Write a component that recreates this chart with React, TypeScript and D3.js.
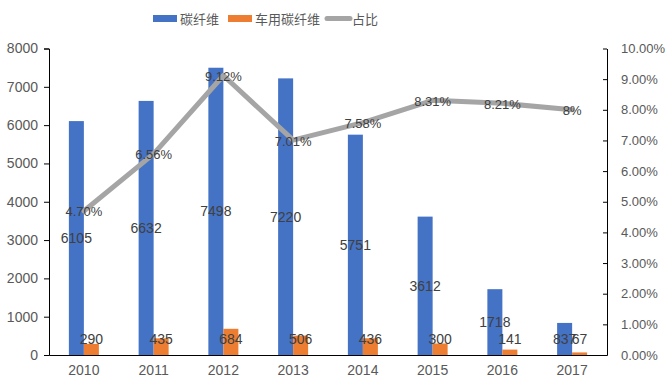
import { useRef, useEffect } from 'react';
import { select, scaleLinear, scaleBand, line, axisLeft, axisRight, axisBottom, format } from 'd3';

const years = ['2010', '2011', '2012', '2013', '2014', '2015', '2016', '2017'];
const carbonFiber = [6105, 6632, 7498, 7220, 5751, 3612, 1718, 837];
const autoCarbonFiber = [290, 435, 684, 506, 436, 300, 141, 67];
const shareLabels = ['4.70%', '6.56%', '9.12%', '7.01%', '7.58%', '8.31%', '8.21%', '8%'];
const share = [0.047, 0.0656, 0.0912, 0.0701, 0.0758, 0.0831, 0.0821, 0.08];
const leftTicks = [0, 1000, 2000, 3000, 4000, 5000, 6000, 7000, 8000];
const rightTicks = [0, 0.01, 0.02, 0.03, 0.04, 0.05, 0.06, 0.07, 0.08, 0.09, 0.1];

const WIDTH = 668;
const HEIGHT = 387;
const LEFT = 49;
const RIGHT = 607;
const TOP = 48.5;
const BOTTOM = 355;
const FONT = '"Liberation Sans", Arial, sans-serif';
const CJK = '"Noto Sans CJK SC", sans-serif';
const BLUE = '#4472C4';
const ORANGE = '#ED7D31';
const GREY = '#A5A5A5';

export default function App() {
  const svgRef = useRef<SVGSVGElement>(null);

  useEffect(() => {
    const svg = select(svgRef.current);
    svg.selectAll('*').remove();

    const x = scaleBand<string>().domain(years).range([LEFT, RIGHT]);
    const y = scaleLinear().domain([0, 8000]).range([BOTTOM, TOP]);
    const y2 = scaleLinear().domain([0, 0.1]).range([BOTTOM, TOP]);
    const barW = 15;
    const center = (d: string) => x(d)! + x.bandwidth() / 2;

    // axes
    const styleAxis = (size: number) => (g: any) => {
      g.selectAll('.domain').attr('stroke', '#000');
      g.selectAll('.tick line').attr('stroke', '#000');
      g.selectAll('.tick text')
        .attr('fill', '#595959')
        .attr('font-size', size)
        .attr('font-family', FONT);
    };
    svg
      .append('g')
      .attr('transform', `translate(${LEFT},0)`)
      .call(axisLeft(y).tickValues(leftTicks).tickSizeOuter(0).tickSize(5).tickPadding(6).tickFormat(format('d')))
      .call(styleAxis(14));
    svg
      .append('g')
      .attr('transform', `translate(${RIGHT},0)`)
      .call(
        axisRight(y2)
          .tickValues(rightTicks)
          .tickSize(-4)
          .tickSizeOuter(0)
          .tickPadding(14)
          .tickFormat(format('.2%')),
      )
      .call(styleAxis(13));
    svg
      .append('g')
      .attr('transform', `translate(0,${BOTTOM})`)
      .call(axisBottom(x).tickSize(0).tickPadding(10))
      .call(styleAxis(14));

    // bars
    svg
      .append('g')
      .selectAll('rect')
      .data(carbonFiber)
      .join('rect')
      .attr('x', (_d, i) => center(years[i]) - barW)
      .attr('y', (d) => y(d))
      .attr('width', barW)
      .attr('height', (d) => BOTTOM - y(d))
      .attr('fill', BLUE);
    svg
      .append('g')
      .selectAll('rect')
      .data(autoCarbonFiber)
      .join('rect')
      .attr('x', (_d, i) => center(years[i]))
      .attr('y', (d) => y(d))
      .attr('width', barW)
      .attr('height', (d) => BOTTOM - y(d))
      .attr('fill', ORANGE);

    // line
    svg
      .append('path')
      .datum(share)
      .attr('fill', 'none')
      .attr('stroke', GREY)
      .attr('stroke-width', 5)
      .attr('stroke-linejoin', 'round')
      .attr('stroke-linecap', 'round')
      .attr(
        'd',
        line<number>()
          .x((_d, i) => center(years[i]))
          .y((d) => y2(d)),
      );

    // data labels
    const labels = svg
      .append('g')
      .attr('font-family', FONT)
      .attr('font-size', 14)
      .attr('fill', '#404040')
      .attr('text-anchor', 'middle')
      .attr('dominant-baseline', 'central');
    carbonFiber.forEach((v, i) => {
      labels
        .append('text')
        .attr('x', center(years[i]) - barW / 2)
        .attr('y', (y(v) + BOTTOM) / 2)
        .text(v);
    });
    autoCarbonFiber.forEach((v, i) => {
      labels
        .append('text')
        .attr('x', center(years[i]) + barW / 2)
        .attr('y', BOTTOM - 16)
        .text(v);
    });
    share.forEach((v, i) => {
      labels
        .append('text')
        .attr('x', center(years[i]))
        .attr('y', y2(v) + 1)
        .attr('font-size', 13)
        .text(shareLabels[i]);
    });

    // legend
    const legend = svg
      .append('g')
      .attr('font-family', CJK)
      .attr('font-size', 13)
      .attr('fill', '#595959');
    const items = [
      { name: '碳纤维', color: BLUE, x: 153, type: 'rect' },
      { name: '车用碳纤维', color: ORANGE, x: 228, type: 'rect' },
      { name: '占比', color: GREY, x: 325, type: 'line' },
    ];
    items.forEach((it) => {
      if (it.type === 'rect') {
        legend.append('rect').attr('x', it.x).attr('y', 15).attr('width', 24).attr('height', 7).attr('fill', it.color);
      } else {
        legend
          .append('line')
          .attr('x1', it.x + 2)
          .attr('x2', it.x + 25)
          .attr('y1', 18.5)
          .attr('y2', 18.5)
          .attr('stroke', it.color)
          .attr('stroke-width', 5)
          .attr('stroke-linecap', 'round');
      }
      legend
        .append('text')
        .attr('x', it.x + 27)
        .attr('y', 18.5)
        .attr('dominant-baseline', 'central')
        .text(it.name);
    });
  }, []);

  return (
    <svg
      ref={svgRef}
      width={WIDTH}
      height={HEIGHT}
      viewBox={`0 0 ${WIDTH} ${HEIGHT}`}
      style={{ position: 'absolute', left: 0, top: 0, background: '#fff' }}
    />
  );
}
